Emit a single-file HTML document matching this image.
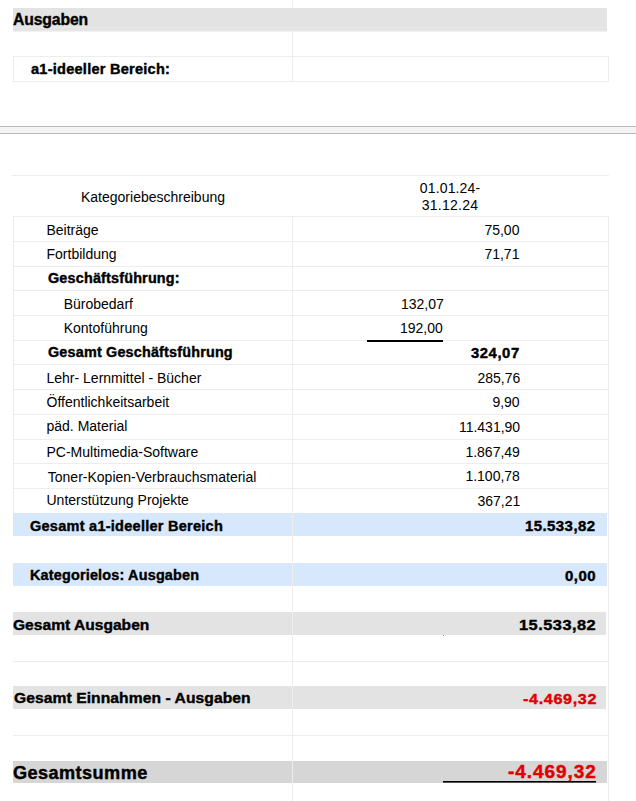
<!DOCTYPE html>
<html><head><meta charset="utf-8"><style>
html,body{margin:0;padding:0;background:#fff;width:636px;height:801px;overflow:hidden}
body{position:relative;font-family:"Liberation Sans", sans-serif}
.r{position:absolute}
.t{position:absolute;white-space:nowrap;line-height:30px;font-family:"Liberation Sans", sans-serif;transform-origin:0 0}
.b{-webkit-text-stroke:0.4px currentColor}
</style></head><body>
<div class="r" style="left:292px;top:0px;width:1px;height:8px;background:#eeeeee"></div>
<div class="r" style="left:13px;top:8px;width:594px;height:19px;background:#e3e3e3"></div>
<div class="r" style="left:13px;top:27px;width:594px;height:1px;background:#e9e9e9"></div>
<div class="r" style="left:13px;top:28px;width:594px;height:2px;background:#e3e3e3"></div>
<div class="r" style="left:13px;top:30px;width:594px;height:1px;background:#e6e6e6"></div>
<div class="r" style="left:13px;top:31px;width:594px;height:1px;background:#f2f2f2"></div>
<div class="r" style="left:292px;top:31px;width:1px;height:51px;background:#ededed"></div>
<div class="r" style="left:13px;top:56px;width:596px;height:1px;background:#ededed"></div>
<div class="r" style="left:13px;top:81px;width:596px;height:1px;background:#ededed"></div>
<div class="r" style="left:13px;top:56px;width:1px;height:26px;background:#ededed"></div>
<div class="r" style="left:608px;top:56px;width:1px;height:26px;background:#ededed"></div>
<div class="r" style="left:0px;top:126px;width:636px;height:1px;background:#b9b9b9"></div>
<div class="r" style="left:0px;top:127px;width:636px;height:6px;background:#f4f4f4"></div>
<div class="r" style="left:0px;top:133px;width:636px;height:1px;background:#b9b9b9"></div>
<div class="r" style="left:12px;top:175px;width:597px;height:1px;background:#ededed"></div>
<div class="r" style="left:13px;top:216px;width:596px;height:1px;background:#ededed"></div>
<div class="r" style="left:13px;top:241px;width:596px;height:1px;background:#ededed"></div>
<div class="r" style="left:13px;top:266px;width:596px;height:1px;background:#ededed"></div>
<div class="r" style="left:13px;top:290px;width:596px;height:1px;background:#ededed"></div>
<div class="r" style="left:13px;top:315px;width:596px;height:1px;background:#ededed"></div>
<div class="r" style="left:13px;top:340px;width:596px;height:1px;background:#ededed"></div>
<div class="r" style="left:13px;top:364px;width:596px;height:1px;background:#ededed"></div>
<div class="r" style="left:13px;top:389px;width:596px;height:1px;background:#ededed"></div>
<div class="r" style="left:13px;top:414px;width:596px;height:1px;background:#ededed"></div>
<div class="r" style="left:13px;top:439px;width:596px;height:1px;background:#ededed"></div>
<div class="r" style="left:13px;top:463px;width:596px;height:1px;background:#ededed"></div>
<div class="r" style="left:13px;top:488px;width:596px;height:1px;background:#ededed"></div>
<div class="r" style="left:13px;top:216px;width:1px;height:297px;background:#ededed"></div>
<div class="r" style="left:608px;top:216px;width:1px;height:297px;background:#ededed"></div>
<div class="r" style="left:292px;top:216px;width:1px;height:297px;background:#ededed"></div>
<div class="r" style="left:13px;top:513px;width:594px;height:23px;background:#d7e8fd"></div>
<div class="r" style="left:13px;top:563px;width:594px;height:23px;background:#d7e8fd"></div>
<div class="r" style="left:13px;top:612px;width:593px;height:23px;background:#e3e3e3"></div>
<div class="r" style="left:13px;top:686px;width:593px;height:23px;background:#e3e3e3"></div>
<div class="r" style="left:13px;top:761px;width:594px;height:22px;background:#d6d6d6"></div>
<div class="r" style="left:292px;top:536px;width:1px;height:27px;background:#ededed"></div>
<div class="r" style="left:292px;top:586px;width:1px;height:26px;background:#ededed"></div>
<div class="r" style="left:292px;top:635px;width:1px;height:51px;background:#ededed"></div>
<div class="r" style="left:292px;top:709px;width:1px;height:52px;background:#ededed"></div>
<div class="r" style="left:292px;top:783px;width:1px;height:18px;background:#ededed"></div>
<div class="r" style="left:608px;top:513px;width:1px;height:288px;background:#ededed"></div>
<div class="r" style="left:13px;top:661px;width:596px;height:1px;background:#ededed"></div>
<div class="r" style="left:13px;top:735px;width:596px;height:1px;background:#ededed"></div>
<div class="r" style="left:292px;top:513px;width:1px;height:23px;background:#eeeeee"></div>
<div class="r" style="left:292px;top:563px;width:1px;height:23px;background:#eeeeee"></div>
<div class="r" style="left:292px;top:612px;width:1px;height:23px;background:#eeeeee"></div>
<div class="r" style="left:292px;top:686px;width:1px;height:23px;background:#eeeeee"></div>
<div class="r" style="left:292px;top:761px;width:1px;height:22px;background:#eeeeee"></div>
<div class="r" style="left:367px;top:340px;width:76px;height:2px;background:#000"></div>
<div class="r" style="left:443px;top:781px;width:153px;height:1px;background:#000"></div>
<div class="r" style="left:443px;top:782px;width:153px;height:1px;background:#555"></div>
<div class="r" style="left:443px;top:635px;width:1px;height:1px;background:#888"></div>
<div class="t b" style="left:13.10px;top:4.70px;font-size:16px;font-weight:700;color:#000;letter-spacing:-0.116px;transform:scaleX(0.9818)">Ausgaben</div>
<div class="t b" style="left:30.60px;top:54.10px;font-size:14px;font-weight:700;color:#000;letter-spacing:0.243px;transform:scaleX(1.0383)">a1-ideeller Bereich:</div>
<div class="t" style="left:81.00px;top:181.60px;font-size:14px;font-weight:400;color:#000">Kategoriebeschreibung</div>
<div class="t" style="left:419.80px;top:173.30px;font-size:14px;font-weight:400;color:#000;letter-spacing:0.150px">01.01.24-</div>
<div class="t" style="left:421.80px;top:190.30px;font-size:14px;font-weight:400;color:#000;letter-spacing:0.243px">31.12.24</div>
<div class="t" style="left:46.50px;top:215.40px;font-size:14px;font-weight:400;color:#000">Beiträge</div>
<div class="t" style="left:46.50px;top:239.30px;font-size:14px;font-weight:400;color:#000">Fortbildung</div>
<div class="t b" style="left:47.50px;top:263.20px;font-size:14px;font-weight:700;color:#000;letter-spacing:0.176px;transform:scaleX(1.0278)">Geschäftsführung:</div>
<div class="t" style="left:63.70px;top:288.60px;font-size:14px;font-weight:400;color:#000">Bürobedarf</div>
<div class="t" style="left:63.70px;top:313.30px;font-size:14px;font-weight:400;color:#000">Kontoführung</div>
<div class="t b" style="left:47.80px;top:337.20px;font-size:14px;font-weight:700;color:#000;letter-spacing:0.186px;transform:scaleX(1.0263)">Gesamt Geschäftsführung</div>
<div class="t" style="left:46.50px;top:363.10px;font-size:14px;font-weight:400;color:#000">Lehr- Lernmittel - Bücher</div>
<div class="t" style="left:46.50px;top:386.50px;font-size:14px;font-weight:400;color:#000">Öffentlichkeitsarbeit</div>
<div class="t" style="left:46.50px;top:410.90px;font-size:14px;font-weight:400;color:#000">päd. Material</div>
<div class="t" style="left:46.50px;top:436.80px;font-size:14px;font-weight:400;color:#000">PC-Multimedia-Software</div>
<div class="t" style="left:47.80px;top:461.60px;font-size:14px;font-weight:400;color:#000">Toner-Kopien-Verbrauchsmaterial</div>
<div class="t" style="left:46.50px;top:485.30px;font-size:14px;font-weight:400;color:#000">Unterstützung Projekte</div>
<div class="t b" style="left:30.20px;top:510.80px;font-size:14px;font-weight:700;color:#000;letter-spacing:0.259px;transform:scaleX(1.0353)">Gesamt a1-ideeller Bereich</div>
<div class="t b" style="left:30.00px;top:559.80px;font-size:14px;font-weight:700;color:#000;letter-spacing:0.185px;transform:scaleX(1.0283)">Kategorielos: Ausgaben</div>
<div class="t b" style="left:13.30px;top:609.60px;font-size:15.5px;font-weight:700;color:#000;letter-spacing:0.014px;transform:scaleX(1.0044)">Gesamt Ausgaben</div>
<div class="t b" style="left:13.50px;top:683.40px;font-size:15.5px;font-weight:700;color:#000;letter-spacing:0.057px;transform:scaleX(1.0097)">Gesamt Einnahmen - Ausgaben</div>
<div class="t b" style="left:13.10px;top:757.60px;font-size:17.5px;font-weight:700;color:#000;letter-spacing:0.405px;transform:scaleX(1.0368)">Gesamtsumme</div>
<div class="t" style="left:484.40px;top:214.90px;font-size:14px;font-weight:400;color:#000">75,00</div>
<div class="t" style="left:484.40px;top:239.30px;font-size:14px;font-weight:400;color:#000">71,71</div>
<div class="t" style="left:401.00px;top:289.30px;font-size:14px;font-weight:400;color:#000">132,07</div>
<div class="t" style="left:400.00px;top:312.90px;font-size:14px;font-weight:400;color:#000">192,00</div>
<div class="t b" style="left:470.70px;top:337.80px;font-size:14px;font-weight:700;color:#000;letter-spacing:0.549px;transform:scaleX(1.0570)">324,07</div>
<div class="t" style="left:477.40px;top:362.80px;font-size:14px;font-weight:400;color:#000">285,76</div>
<div class="t" style="left:492.40px;top:386.80px;font-size:14px;font-weight:400;color:#000">9,90</div>
<div class="t" style="left:458.90px;top:411.50px;font-size:14px;font-weight:400;color:#000">11.431,90</div>
<div class="t" style="left:465.40px;top:436.70px;font-size:14px;font-weight:400;color:#000">1.867,49</div>
<div class="t" style="left:465.40px;top:461.40px;font-size:14px;font-weight:400;color:#000">1.100,78</div>
<div class="t" style="left:477.40px;top:485.90px;font-size:14px;font-weight:400;color:#000">367,21</div>
<div class="t b" style="left:525.00px;top:511.00px;font-size:14px;font-weight:700;color:#000;letter-spacing:0.409px;transform:scaleX(1.0685)">15.533,82</div>
<div class="t b" style="left:564.90px;top:560.50px;font-size:14px;font-weight:700;color:#000;letter-spacing:0.500px;transform:scaleX(1.0667)">0,00</div>
<div class="t b" style="left:518.90px;top:609.80px;font-size:15.5px;font-weight:700;color:#000;letter-spacing:0.449px;transform:scaleX(1.0574)">15.533,82</div>
<div class="t b" style="left:522.50px;top:683.80px;font-size:15px;font-weight:700;color:#e00000;letter-spacing:0.579px;transform:scaleX(1.0794)">-4.469,32</div>
<div class="t b" style="left:508.30px;top:757.40px;font-size:17.5px;font-weight:700;color:#e00000;letter-spacing:0.826px;transform:scaleX(1.0892)">-4.469,32</div>
</body></html>
